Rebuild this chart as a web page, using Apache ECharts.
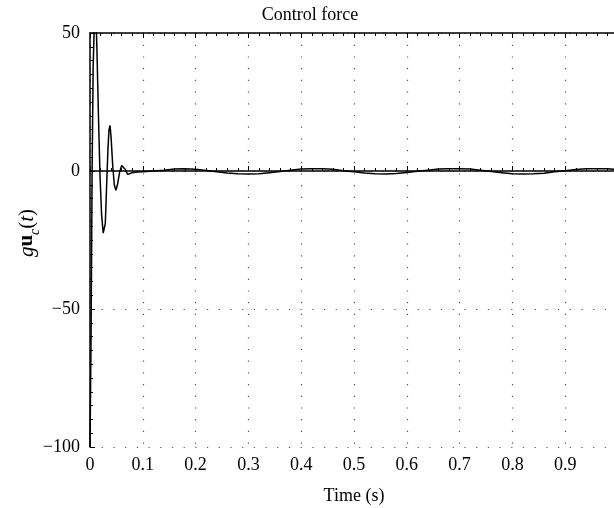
<!DOCTYPE html>
<html>
<head>
<meta charset="utf-8">
<script src="https://cdn.jsdelivr.net/npm/echarts@6/dist/echarts.min.js"></script>
<style>html,body{margin:0;padding:0;background:#fff;}#c{width:614px;height:508px;}</style>
</head>
<body>
<div id="c"></div>
<script>
var titleText = 'Control force';
var xName = 'Time (s)';
var timeValues = [0, 0.002, 0.004, 0.006, 0.008, 0.010, 0.011, 0.013, 0.016, 0.019, 0.022, 0.025, 0.027, 0.029, 0.031, 0.034, 0.036, 0.038, 0.040, 0.043, 0.046, 0.049, 0.052, 0.056, 0.060, 0.063, 0.067, 0.071, 0.075, 0.08, 0.09, 0.1, 0.12, 0.14, 0.16, 0.18, 0.2, 0.22, 0.24, 0.26, 0.28, 0.30, 0.32, 0.34, 0.36, 0.38, 0.40, 0.42, 0.44, 0.46, 0.48, 0.50, 0.52, 0.54, 0.56, 0.58, 0.60, 0.62, 0.64, 0.66, 0.68, 0.70, 0.72, 0.74, 0.76, 0.78, 0.80, 0.82, 0.84, 0.86, 0.88, 0.90, 0.92, 0.94, 0.96, 0.98, 1.0];
var forceValues = [-100, -60, 0, 38, 52, 60, 58, 45, 20, -2, -16, -22.5, -23, -19, -8, 8, 15, 16.5, 12, 2, -5, -7, -5, -0.5, 2, 2.3, 0.5, -1.2, -1.0, -0.6, -0.4, -0.3, 0, 0.3, 0.7, 0.8, 0.6, 0.2, -0.3, -0.7, -1.0, -1.1, -1.0, -0.6, -0.2, 0.3, 0.7, 0.8, 0.8, 0.6, 0.1, -0.3, -0.7, -1.0, -1.1, -0.9, -0.5, -0.1, 0.3, 0.7, 0.8, 0.8, 0.7, 0.3, -0.2, -0.6, -1.0, -1.1, -1.0, -0.8, -0.3, 0.1, 0.5, 0.8, 0.8, 0.8, 0.6];
var xTicks = ['0', '0.1', '0.2', '0.3', '0.4', '0.5', '0.6', '0.7', '0.8', '0.9', ''];
var yTicks = {'-100': '\u2212100', '-50': '\u221250', '0': '0', '50': '50'};

var FONT = '"Liberation Serif", "DejaVu Serif", serif';
var data = timeValues.map(function (t, i) { return [t, forceValues[i]]; });

var gridLine = {show: true, lineStyle: {color: '#555', width: 1.2, type: [1.2, 10.5]}};
var tickStyle = {color: '#000', width: 1};

var chart = echarts.init(document.getElementById('c'), null, {renderer: 'canvas'});
chart.setOption({
  animation: false,
  backgroundColor: '#fff',
  title: {
    text: titleText, left: 305, top: 1, textAlign: 'center',
    textStyle: {fontFamily: FONT, fontSize: 18, fontWeight: 'normal', color: '#000'}
  },
  grid: {left: 90, top: 33, width: 528, height: 414, containLabel: false, outerBoundsMode: 'none'},
  xAxis: [{
    type: 'value', min: 0, max: 1, interval: 0.1, position: 'bottom',
    name: xName, nameLocation: 'middle', nameGap: 40,
    nameTextStyle: {fontFamily: FONT, fontSize: 18, color: '#000'},
    axisLine: {show: true, lineStyle: {color: '#000', width: 1.5}},
    axisTick: {show: true, inside: true, length: 5, lineStyle: tickStyle},
    minorTick: {show: true, splitNumber: 5, length: 3, lineStyle: tickStyle},
    axisLabel: {fontFamily: FONT, fontSize: 18, color: '#000', margin: 9, formatter: function (v) { return xTicks[Math.round(v * 10)]; }},
    splitLine: gridLine
  }, {
    type: 'value', min: 0, max: 1, interval: 0.1, position: 'top',
    axisLine: {show: true, lineStyle: {color: '#000', width: 1.5}},
    axisTick: {show: true, inside: true, length: 5, lineStyle: tickStyle},
    minorTick: {show: true, splitNumber: 5, length: 3, lineStyle: tickStyle},
    axisLabel: {show: false},
    splitLine: {show: false}
  }],
  yAxis: [{
    type: 'value', min: -100, max: 50, interval: 50,
    name: '{i|g}{b|u}{s|c}{n|(}{i|t}{n|)}', nameLocation: 'middle', nameRotate: 90, nameGap: 48,
    nameMoveOverlap: false,
    nameTextStyle: {
      fontFamily: FONT, fontSize: 20, color: '#000', padding: [0, 0, 0, 14],
      rich: {
        i: {fontFamily: FONT, fontSize: 21, fontStyle: 'italic', color: '#000', lineHeight: 30, verticalAlign: 'middle'},
        b: {fontFamily: FONT, fontSize: 21, fontWeight: 'bold', color: '#000', lineHeight: 30, verticalAlign: 'middle'},
        s: {fontFamily: FONT, fontSize: 14, fontStyle: 'italic', color: '#000', lineHeight: 30, verticalAlign: 'bottom'},
        n: {fontFamily: FONT, fontSize: 21, color: '#000', lineHeight: 30, verticalAlign: 'middle'}
      }
    },
    axisLine: {show: true, lineStyle: {color: '#000', width: 1.5}},
    axisTick: {show: true, inside: true, length: 5, lineStyle: tickStyle},
    minorTick: {show: true, splitNumber: 10, length: 3, lineStyle: tickStyle},
    axisLabel: {fontFamily: FONT, fontSize: 18, color: '#000', margin: 10, formatter: function (v) { return yTicks[String(v)]; }},
    splitLine: gridLine
  }],
  series: [{
    type: 'line', data: data, showSymbol: false, symbol: 'none',
    lineStyle: {color: '#000', width: 1.5}, clip: true, z: 5
  }]
});
</script>
</body>
</html>
